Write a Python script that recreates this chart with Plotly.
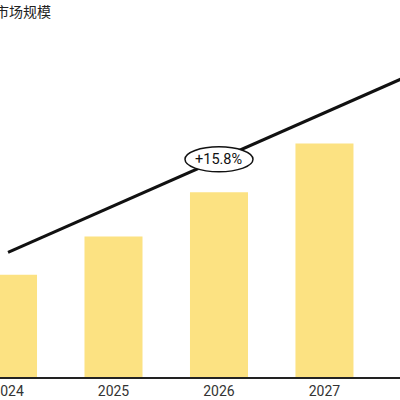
import plotly.graph_objects as go

years = [2024, 2025, 2026, 2027, 2028]
market_size = [520, 602, 697, 802, 935]
trend_x = [2024, 2028]
trend_y = [568, 968]
cagr_label = "+15.8%"
title_text = "市场规模"
tick_labels = ["2024", "2025", "2026", "2027", "2028"]

BAR = "#FCE282"
FONT = "Roboto, 'Noto Sans CJK SC', sans-serif"

fig = go.Figure()
fig.add_trace(go.Bar(x=years, y=market_size, width=0.55, marker=dict(color=BAR, line=dict(width=0)),
                     hoverinfo="skip"))
fig.add_trace(go.Scatter(x=trend_x, y=trend_y, mode="lines", line=dict(color="#111111", width=3),
                         hoverinfo="skip", cliponaxis=False))

mid_x = (trend_x[0] + trend_x[1]) / 2
mid_y = (trend_y[0] + trend_y[1]) / 2
fig.add_shape(type="circle", xref="x", yref="y", xsizemode="pixel", ysizemode="pixel",
              xanchor=mid_x, yanchor=mid_y, x0=-34, x1=34, y0=-12.5, y1=12.5,
              fillcolor="white", line=dict(color="#111111", width=1.5), layer="above")
fig.add_annotation(x=mid_x, y=mid_y, xref="x", yref="y", text=cagr_label, showarrow=False,
                   font=dict(family=FONT, size=14.5, color="#111111"))
fig.add_annotation(x=0, y=1, xref="paper", yref="paper", xanchor="left", yanchor="top",
                   xshift=-7, yshift=31, text=title_text, showarrow=False,
                   font=dict(family="'Noto Sans CJK SC', sans-serif", size=14, color="#222222"))

fig.update_layout(
    width=400, height=400,
    margin=dict(l=0, r=0, t=30, b=23),
    paper_bgcolor="white", plot_bgcolor="white",
    showlegend=False,
    font=dict(family=FONT, size=14, color="#333333"),
    xaxis=dict(range=[2023.924, 2027.716], tickmode="array", tickvals=years, ticktext=tick_labels,
               showgrid=False, zeroline=False, showline=True, linecolor="#222222", linewidth=2,
               ticks="", automargin=False, ticklabeloverflow="allow",
               tickfont=dict(size=14, color="#333333")),
    yaxis=dict(range=[300, 1046], visible=False, automargin=False),
)
fig.write_html("out.html", config={"displayModeBar": False},
               post_script="document.body.style.margin='0';document.body.style.overflow='hidden';")
